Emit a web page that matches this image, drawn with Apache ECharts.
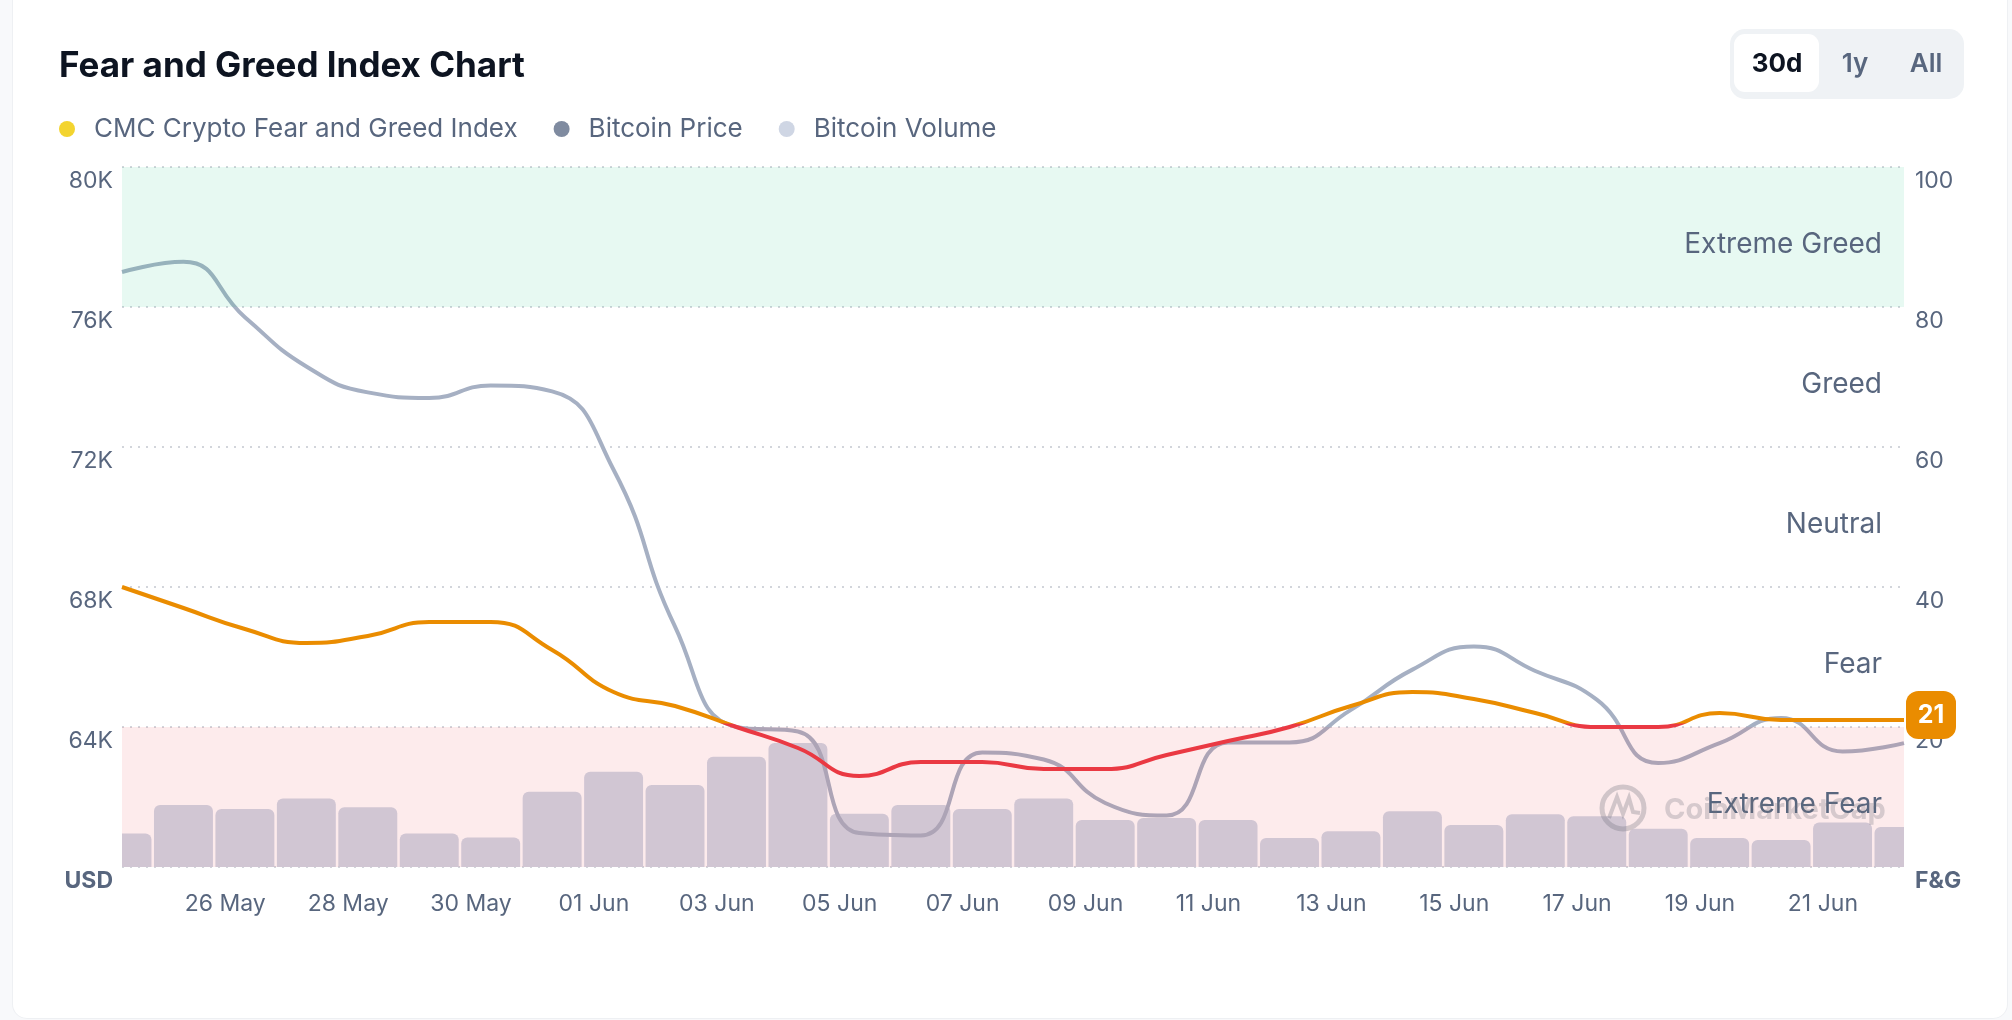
<!DOCTYPE html>
<html>
<head>
<meta charset="utf-8">
<title>Fear and Greed Index Chart</title>
<script src="https://cdn.jsdelivr.net/npm/echarts@6/dist/echarts.min.js"></script>
<style>
    html, body { margin: 0; padding: 0; background: #f8f9fb; }
    #card {
        position: absolute; left: 13px; top: -20px; width: 1994px; height: 1038px;
        background: #fff; border-radius: 14px; box-shadow: 0 0 0 1px #eef0f3;
    }
    #chart { position: absolute; left: 0; top: 0; width: 2012px; height: 1020px; }
</style>
</head>
<body>
<div id="card"></div>
<div id="chart"></div>
<script>
// one point per day, 30 days
var dates = ['24 May', '25 May', '26 May', '27 May', '28 May', '29 May', '30 May', '31 May',
    '01 Jun', '02 Jun', '03 Jun', '04 Jun', '05 Jun', '06 Jun', '07 Jun', '08 Jun', '09 Jun',
    '10 Jun', '11 Jun', '12 Jun', '13 Jun', '14 Jun', '15 Jun', '16 Jun', '17 Jun', '18 Jun',
    '19 Jun', '20 Jun', '21 Jun', '22 Jun'];
var fearGreed = [40, 37, 34, 32, 33, 35, 35, 31, 25, 23, 20, 17, 13, 15, 15,
    14, 14, 16, 18, 20, 23, 25, 24, 22, 20, 20, 22, 21, 21, 21];
var btcPrice = [77000, 77290, 75710, 74300, 73560, 73400, 73760, 73590, 71350, 66870,
    64000, 63870, 60970, 60900, 63270, 63070, 61830, 61470, 63560, 63560,
    64490, 65640, 66300, 65600, 64780, 62970, 63540, 64260, 63300, 63540];
// billions USD
var btcVolume = [9.6, 17.7, 16.6, 19.6, 17.1, 9.6, 8.4, 21.5, 27.2, 23.4,
    31.5, 35.4, 15.2, 17.7, 16.6, 19.6, 13.4, 14.0, 13.4, 8.3,
    10.2, 15.9, 12.0, 15.1, 14.5, 10.9, 8.3, 7.7, 12.7, 11.4];
var tickLabels = ['26 May', '28 May', '30 May', '01 Jun', '03 Jun', '05 Jun', '07 Jun',
    '09 Jun', '11 Jun', '13 Jun', '15 Jun', '17 Jun', '19 Jun', '21 Jun'];
var zoneNames = ['Extreme Fear', 'Fear', 'Neutral', 'Greed', 'Extreme Greed'];
var zoneEdges = [0, 20, 40, 60, 80, 100];
var zoneFill = ['rgba(234,57,67,0.1)', null, null, null, 'rgba(22,199,132,0.1)'];

// samples are taken mid-morning, date labels sit on midnight
var tickShift = -0.32;
var tickPos = tickLabels.map(function (l) { return dates.indexOf(l) + tickShift; });

var slate = '#58667e';
var orange = '#ea8c00';
var red = '#ea3943';
var extremeFearTop = 20.5;
var last = dates.length - 1;

var chart = echarts.init(document.getElementById('chart'), null, {renderer: 'canvas'});

var options = {
    animation: false,
    textStyle: {fontFamily: 'Inter'},
    title: {
        text: 'Fear and Greed Index Chart',
        left: 54,
        top: 44,
        textStyle: {fontSize: 35, fontWeight: 'bold', color: '#0d1421', fontFamily: 'Inter'}
    },
    legend: {
        left: 54,
        top: 111,
        icon: 'circle',
        itemWidth: 44,
        itemHeight: 16,
        itemGap: 36,
        textStyle: {fontSize: 26, color: slate, fontFamily: 'Inter'},
        data: [
            {name: 'CMC Crypto Fear and Greed Index', itemStyle: {color: '#f3d42f'}},
            {name: 'Bitcoin Price', itemStyle: {color: '#7f8ba0'}},
            {name: 'Bitcoin Volume', itemStyle: {color: '#cfd6e4'}}
        ]
    },
    grid: {left: 122, top: 167, width: 1782, height: 700},
    xAxis: {
        type: 'value',
        min: 0,
        max: last,
        axisLine: {show: false},
        axisTick: {show: false},
        splitLine: {show: false},
        axisLabel: {
            customValues: tickPos,
            color: slate,
            fontSize: 23,
            margin: 26,
            formatter: function (v) {
                for (var i = 0; i < tickPos.length; i++) {
                    if (Math.abs(tickPos[i] - v) < 1e-6) return tickLabels[i];
                }
                return '';
            }
        }
    },
    yAxis: [
        {
            type: 'value',
            position: 'left',
            min: 60000,
            max: 80000,
            interval: 4000,
            axisLine: {show: false},
            axisTick: {show: false},
            splitLine: {lineStyle: {color: '#c3c8d0', width: 1.5, type: [2, 6]}},
            axisLabel: {
                color: slate,
                fontSize: 23,
                margin: 9,
                verticalAlign: 'top',
                padding: [3, 0, 0, 0],
                formatter: function (v) { return v === 60000 ? '{u|USD}' : v / 1000 + 'K'; },
                rich: {u: {fontWeight: 'bold', fontSize: 23, color: slate, verticalAlign: 'top'}}
            }
        },
        {
            type: 'value',
            position: 'right',
            min: 0,
            max: 100,
            interval: 20,
            axisLine: {show: false},
            axisTick: {show: false},
            splitLine: {show: false},
            axisLabel: {
                color: slate,
                fontSize: 23,
                margin: 11,
                verticalAlign: 'top',
                padding: [3, 0, 0, 0],
                formatter: function (v) { return v === 0 ? '{u|F&G}' : String(v); },
                rich: {u: {fontWeight: 'bold', fontSize: 23, color: slate, verticalAlign: 'top'}}
            }
        },
        {type: 'value', min: 0, max: 200, show: false}
    ],
    series: [
        {
            // daily volume bars, cut at the plot edges
            name: 'Bitcoin Volume',
            type: 'custom',
            yAxisIndex: 2,
            z: 1,
            itemStyle: {color: '#cfd6e4'},
            data: btcVolume.map(function (v, i) { return [i, v]; }),
            renderItem: function (params, api) {
                var cs = params.coordSys;
                var top = api.coord([api.value(0), api.value(1)]);
                var base = api.coord([api.value(0), 0]);
                var w = api.size([1, 0])[0] - 2.5;
                return {
                    type: 'rect',
                    shape: {x: top[0] - w / 2, y: top[1], width: w, height: base[1] - top[1], r: [6, 6, 0, 0]},
                    style: {fill: '#cfd6e4'},
                    clipPath: {type: 'rect', shape: {x: cs.x, y: cs.y, width: cs.width, height: cs.height}}
                };
            }
        },
        {
            name: 'Bitcoin Price',
            type: 'line',
            yAxisIndex: 0,
            z: 2,
            smooth: true,
            showSymbol: false,
            itemStyle: {color: '#7f8ba0'},
            lineStyle: {color: '#a6b0c3', width: 4},
            data: btcPrice.map(function (v, i) { return [i, v]; })
        },
        {
            // sentiment bands + their names
            name: 'zones',
            type: 'custom',
            yAxisIndex: 1,
            z: 3,
            silent: true,
            data: zoneNames.map(function (n, i) { return [0, zoneEdges[i], zoneEdges[i + 1]]; }),
            renderItem: function (params, api) {
                var i = params.dataIndex;
                var cs = params.coordSys;
                var top = api.coord([0, api.value(2)])[1];
                var bot = api.coord([0, api.value(1)])[1];
                var kids = [];
                if (zoneFill[i]) {
                    kids.push({type: 'rect', shape: {x: cs.x, y: top, width: cs.width, height: bot - top},
                        style: {fill: zoneFill[i]}});
                }
                kids.push({type: 'text', x: cs.x + cs.width - 22, y: (top + bot) / 2 + 8,
                    style: {text: zoneNames[i], align: 'right', verticalAlign: 'middle',
                        fill: slate, font: '28px Inter'}});
                return {type: 'group', children: kids};
            }
        },
        {
            id: 'fg',
            name: 'CMC Crypto Fear and Greed Index',
            type: 'line',
            yAxisIndex: 1,
            z: 4,
            smooth: true,
            showSymbol: false,
            itemStyle: {color: orange},
            lineStyle: {width: 4, color: orange},
            data: fearGreed.map(function (v, i) { return [i, v]; }),
            markPoint: {
                silent: true,
                symbol: 'roundRect',
                symbolSize: [50, 48],
                symbolOffset: [27, -5],
                itemStyle: {color: orange},
                label: {show: true, color: '#fff', fontWeight: 'bold', fontSize: 25, fontFamily: 'Inter',
                    formatter: '{c}'},
                data: [{coord: [last, fearGreed[last]], value: fearGreed[last]}]
            }
        }
    ],
    graphic: [
        // 30d / 1y / All switch
        {type: 'rect', x: 1730, y: 29, shape: {width: 234, height: 70, r: 15}, style: {fill: '#eff2f5'}},
        {type: 'rect', x: 1734, y: 34, shape: {width: 85, height: 58, r: 11}, style: {fill: '#fff'}},
        {type: 'text', x: 1777, y: 64, style: {text: '30d', align: 'center', verticalAlign: 'middle',
            fill: '#0d1421', font: 'bold 26px Inter'}},
        {type: 'text', x: 1855, y: 64, style: {text: '1y', align: 'center', verticalAlign: 'middle',
            fill: slate, font: '600 26px Inter'}},
        {type: 'text', x: 1926, y: 64, style: {text: 'All', align: 'center', verticalAlign: 'middle',
            fill: slate, font: '600 26px Inter'}},
        // watermark
        {type: 'circle', z: 10, shape: {cx: 1623, cy: 808, r: 21}, silent: true,
            style: {fill: 'none', stroke: 'rgba(110,110,122,0.3)', lineWidth: 5}},
        {type: 'polyline', z: 10, silent: true,
            shape: {points: [[1609, 818], [1617, 797], [1623, 814], [1629, 798], [1633, 812], [1640, 813]]},
            style: {fill: 'none', stroke: 'rgba(110,110,122,0.3)', lineWidth: 4}},
        {type: 'text', z: 10, x: 1664, y: 810, silent: true,
            style: {text: 'CoinMarketCap', verticalAlign: 'middle', fill: 'rgba(110,110,122,0.28)',
                font: 'bold 29px Inter'}}
    ]
};

chart.setOption(options);

// red below the extreme-fear line, orange above: hard stop at that level in screen space
var yCut = chart.convertToPixel({yAxisIndex: 1}, extremeFearTop);
chart.setOption({
    series: [{
        id: 'fg',
        lineStyle: {
            color: new echarts.graphic.LinearGradient(0, yCut - 0.5, 0, yCut + 0.5, [
                {offset: 0, color: orange},
                {offset: 1, color: red}
            ], true)
        }
    }]
});
</script>
</body>
</html>
